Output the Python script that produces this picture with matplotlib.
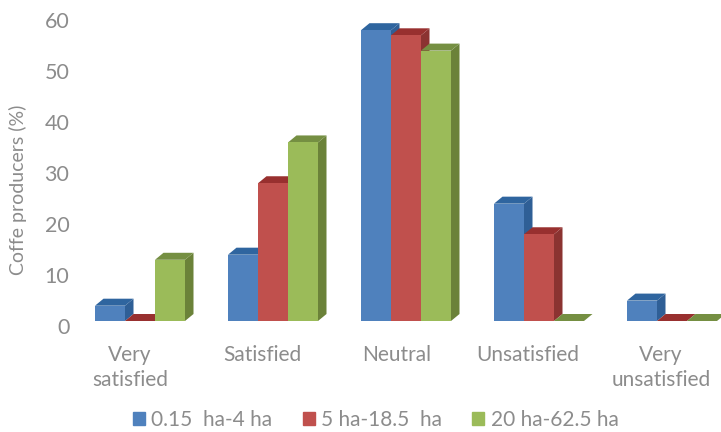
import matplotlib.pyplot as plt
from matplotlib.patches import Polygon, Patch
from matplotlib.transforms import offset_copy
import numpy as np

categories = ["Very\nsatisfied", "Satisfied", "Neutral", "Unsatisfied", "Very\nunsatisfied"]
series_names = ["0.15  ha-4 ha", "5 ha-18.5  ha", "20 ha-62.5 ha"]
small_farms = [4, 14, 58, 24, 5]
medium_farms = [0, 28, 57, 18, 0]
large_farms = [13, 36, 54, 0, 0]
y_ticks = [0, 10, 20, 30, 40, 50, 60]

front_colors = ["#4F81BD", "#C0504D", "#9BBB59"]
side_colors = ["#2F5F96", "#8B3331", "#6B8239"]
top_colors = ["#2F659F", "#98302F", "#758F42"]
gray = "#8c8c8c"

W, H = 721, 432
plt.rcParams['font.family'] = ['Lato', 'DejaVu Sans']

fig = plt.figure(figsize=(W / 100, H / 100), dpi=100)

# one category is 133 px wide, first one centred at x=140
# 3d floor of the chart starts a little above the zero of the scale
floor = 1
left, bottom, top = 73.5, 321, 20
ax = fig.add_axes([left / W, (H - bottom) / H, (W - left) / W, (bottom - top) / H])
ax.set_xlim(-0.5, (W - 140) / 133)
ax.set_ylim(floor, 60)
ax.axis("off")

bar_w = 30 / 133
dx = 8.5 / 133
dy = 7 / ((bottom - top) / (60 - floor))
x = np.arange(len(categories))

for i, values in enumerate([small_farms, medium_farms, large_farms]):
    pos = x + (i - 1) * bar_w
    heights = [max(v, floor) for v in values]
    ax.bar(pos, [h - floor for h in heights], bottom=floor, width=bar_w, color=front_colors[i],
           zorder=3 + i * 2, clip_on=False)
    for p, v in zip(pos, heights):
        x0 = p - bar_w / 2
        x1 = p + bar_w / 2
        side = [(x1, floor), (x1 + dx, floor + dy), (x1 + dx, v + dy), (x1, v)]
        roof = [(x0, v), (x0 + dx, v + dy), (x1 + dx, v + dy), (x1, v)]
        ax.add_patch(Polygon(side, color=side_colors[i], lw=0, zorder=2 + i * 2, clip_on=False))
        ax.add_patch(Polygon(roof, color=top_colors[i], lw=0, zorder=2 + i * 2, clip_on=False))

# tick labels of the back wall sit on their own scale
ay = fig.add_axes([left / W, (H - 326) / H, 0.01, (326 - 20) / H])
ay.set_ylim(0, 60)
ay.set_yticks(y_ticks)
ay.set_xticks([])
ay.patch.set_alpha(0)
for s in ay.spines.values():
    s.set_visible(False)
ay.tick_params(axis="y", length=0, pad=3, labelsize=15.5, labelcolor=gray)

fig.text(18 / W, 1 - 190 / H, "Coffe producers (%)", rotation=90, ha="center", va="center",
         fontsize=14, color=gray)

label_shift = [-10, -11, -9, -11, -11]
for c, lab, sh in zip(x, categories, label_shift):
    trans = offset_copy(ax.get_xaxis_transform(), fig=fig, x=sh, y=0, units="dots")
    ax.text(c, -0.08, lab, transform=trans, ha="center", va="top", fontsize=15,
            color=gray, linespacing=1.3, clip_on=False)

handles = [Patch(color=c) for c in front_colors]
fig.legend(handles, series_names, loc="center left", bbox_to_anchor=(133 / W, 1 - 420 / H),
           ncol=3, frameon=False, fontsize=15, labelcolor=gray, handlelength=0.58,
           handleheight=0.58, handletextpad=0.3, columnspacing=1.45, borderpad=0, borderaxespad=0)

fig.savefig("out.png", dpi=100)
